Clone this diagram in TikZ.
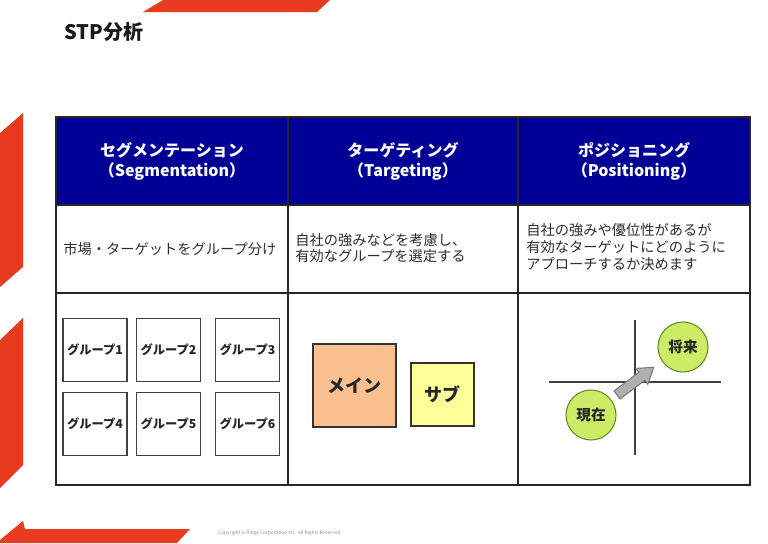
\documentclass[tikz,border=0pt]{standalone}
\usepackage{fontspec}
\setmainfont{Noto Sans CJK JP}
\definecolor{stpred}{RGB}{232,58,30}
\definecolor{navyhead}{RGB}{0,0,150}
\definecolor{txtgray}{RGB}{45,45,45}
\definecolor{mainfill}{RGB}{250,192,144}
\definecolor{subfill}{RGB}{255,255,153}
\definecolor{circfill}{RGB}{204,236,102}
\definecolor{circline}{RGB}{100,140,40}
\definecolor{arrowfill}{RGB}{175,175,175}
\begin{document}
\begin{tikzpicture}[x=0.75pt,y=-0.75pt,
  redshape/.style={fill=stpred,draw=none},
  tableline/.style={draw=black!85,line width=0.9pt},
  headtext/.style={text=white,font=\fontsize{12pt}{15pt}\selectfont\bfseries,align=center},
  celltext/.style={text=txtgray,font=\fontsize{10.7pt}{12.6pt}\selectfont,align=left},
  groupbox/.style={draw=black!75,line width=0.9pt,fill=white,minimum width=48pt,minimum height=47pt,inner sep=0pt,font=\fontsize{9.2pt}{11pt}\selectfont\bfseries,text=black!85},
  tbox/.style={draw=black!80,line width=0.9pt,inner sep=0pt,font=\fontsize{13.5pt}{15pt}\selectfont\bfseries,text=black!85},
  circ/.style={circle,fill=circfill,draw=circline,line width=0.8pt,minimum size=37.5pt,inner sep=0pt,font=\fontsize{11pt}{12pt}\selectfont\bfseries,text=black!85},
  axisline/.style={draw=black!75,line width=0.9pt}]
\useasboundingbox (0,0) rectangle (768,543);
\fill[white] (0,0) rectangle (768,543);
% red decorations
\fill[redshape] (143,12) -- (317,12) -- (330,0) -- (163,0) -- cycle;
\fill[redshape] (0,133) -- (23,113) -- (23,267) -- (0,287) -- cycle;
\fill[redshape] (0,340) -- (23,318) -- (23,465) -- (0,488) -- cycle;
\fill[redshape] (0,543) -- (0,540) -- (23,521) -- (25,529) -- (190,529) -- (177,543) -- cycle;
% title
\node[anchor=west,inner sep=0pt,font=\fontsize{15pt}{16pt}\selectfont\bfseries,text=black!90] (title) at (64,32) {STP分析};
% table
\fill[navyhead] (56,117) rectangle (750,205);
\draw[tableline] (56,117) rectangle (750,485);
\draw[tableline] (56,205) -- (750,205);
\draw[tableline] (56,293) -- (750,293);
\draw[tableline] (288,117) -- (288,485);
\draw[tableline] (518,117) -- (518,485);
\node[headtext] (hseg) at (172,161) {セグメンテーション\\（Segmentation）};
\node[headtext] (htar) at (403,161) {ターゲティング\\（Targeting）};
\node[headtext] (hpos) at (634,161) {ポジショニング\\（Positioning）};
\node[celltext,anchor=west,inner sep=0pt] (tseg) at (63,249) {市場・ターゲットをグループ分け};
\node[celltext,anchor=west,inner sep=0pt] (ttar) at (295,248) {自社の強みなどを考慮し、\\有効なグループを選定する};
\node[celltext,anchor=west,inner sep=0pt] (tpos) at (526,247) {自社の強みや優位性があるが\\有効なターゲットにどのように\\アプローチするか決めます};
% segmentation groups
\node[groupbox] (g1) at (95,350) {グループ1};
\node[groupbox] (g2) at (168.5,350) {グループ2};
\node[groupbox] (g3) at (247.5,350) {グループ3};
\node[groupbox] (g4) at (95,424) {グループ4};
\node[groupbox] (g5) at (168.5,424) {グループ5};
\node[groupbox] (g6) at (247.5,424) {グループ6};
% targeting
\node[tbox,fill=mainfill,minimum width=62.25pt,minimum height=62.25pt] (main) at (354.5,385.5) {メイン};
\node[tbox,fill=subfill,minimum width=47.25pt,minimum height=47.25pt] (sub) at (442.5,394.5) {サブ};
% positioning
\coordinate (vtop) at (635,320);
\coordinate (vbot) at (635,455);
\coordinate (hleft) at (549,382);
\coordinate (hright) at (721,382);
\draw[axisline] (vtop) -- (vbot);
\draw[axisline] (hleft) -- (hright);
\node[circ] (future) at (683,347) {将来};
\node[circ] (now) at (591,415) {現在};
\begin{scope}[shift={(617,395)},rotate=37]
\filldraw[fill=arrowfill,draw=black!55,line width=0.7pt] (0,-5) -- (31,-5) -- (31,-10) -- (46,0) -- (31,10) -- (31,5) -- (0,5) -- cycle;
\end{scope}
% copyright
\node[anchor=west,inner sep=0pt,font=\fontsize{3.6pt}{4pt}\selectfont,text=black!45] (copy) at (218,533) {Copyright © Ridge Corporation Inc. All Rights Reserved.};
\end{tikzpicture}
\end{document}
